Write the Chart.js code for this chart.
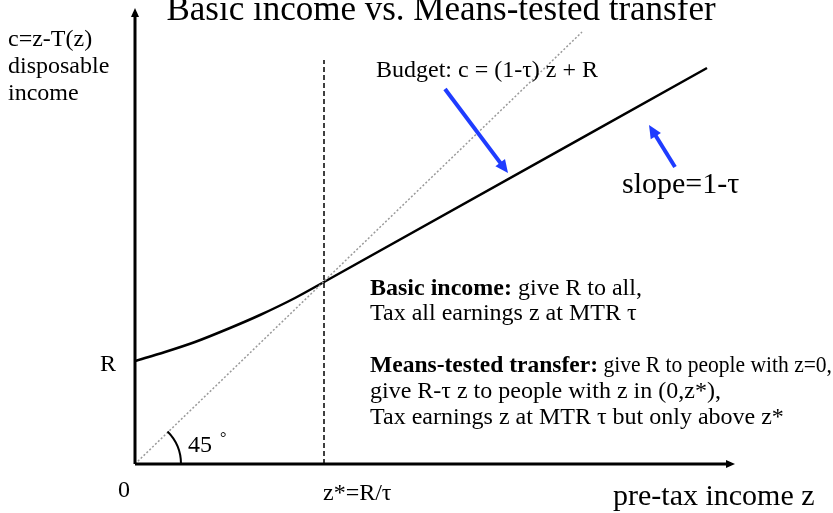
<!DOCTYPE html>
<html lang="en">
<head>
  <meta charset="UTF-8">
  <title>Basic income vs. Means-tested transfer</title>
  <script src="https://cdn.jsdelivr.net/npm/chart.js"></script>
  <style>
    body { margin: 0; background: #fff; }
    canvas { display: block; }
  </style>
</head>
<body>
  <canvas id="chart" width="833" height="513"></canvas>

  <script>
    // budget curve (z = pre-tax income, c = disposable income)
    const zBudget = [0, 30, 60, 95, 125, 160, 189, 572];
    const cBudget = [103, 112, 122, 136, 149, 166, 182, 396];

    // 45 degree line and the z* marker
    const zDiag = [0, 447];
    const cDiag = [0, 432];
    const R = 103;
    const zStar = 189;
    const cStarTop = 404;

    // axis ranges
    const zMax = 600;
    const cMax = 456;

    // blue pointer arrows (tail -> head)
    const arrowFromZ = [310, 540];
    const arrowFromC = [375, 297];
    const arrowToZ = [373, 514];
    const arrowToC = [291, 339];

    const noteLines = [
      ["Basic income:", " give R to all,"],
      ["", "Tax all earnings z at MTR \u03c4"],
      ["Means-tested transfer:", " give R to people with z=0,"],
      ["", "give R-\u03c4 z to people with z in (0,z*),"],
      ["", "Tax earnings z at MTR \u03c4 but only above z*"]
    ];

    const serif = '"Liberation Serif", "Times New Roman", serif';

    function arrowHead(ctx, x1, y1, x2, y2, len, half) {
      const a = Math.atan2(y2 - y1, x2 - x1);
      ctx.beginPath();
      ctx.moveTo(x2, y2);
      ctx.lineTo(x2 - len * Math.cos(a) + half * Math.sin(a), y2 - len * Math.sin(a) - half * Math.cos(a));
      ctx.lineTo(x2 - len * Math.cos(a) - half * Math.sin(a), y2 - len * Math.sin(a) + half * Math.cos(a));
      ctx.closePath();
      ctx.fill();
    }

    const diagramPlugin = {
      id: 'diagram',
      afterDatasetsDraw(chart) {
        const ctx = chart.ctx;
        const xs = chart.scales.x, ys = chart.scales.y;
        const px = v => xs.getPixelForValue(v);
        const py = v => ys.getPixelForValue(v);
        const x0 = px(0), y0 = py(0);

        ctx.save();
        // axes with arrow heads
        ctx.strokeStyle = '#000';
        ctx.fillStyle = '#000';
        ctx.lineWidth = 3;
        ctx.beginPath();
        ctx.moveTo(x0, y0);
        ctx.lineTo(px(zMax) - 4, y0);
        ctx.moveTo(x0, y0);
        ctx.lineTo(x0, py(cMax) + 4);
        ctx.stroke();
        arrowHead(ctx, x0, y0, px(zMax), y0, 9, 4);
        arrowHead(ctx, x0, y0, x0, py(cMax), 9, 4);

        // 45 degree arc
        ctx.lineWidth = 2;
        ctx.beginPath();
        ctx.arc(x0, y0, 46, -Math.PI / 4, 0);
        ctx.stroke();

        // blue arrows
        ctx.strokeStyle = '#1f3cff';
        ctx.fillStyle = '#1f3cff';
        ctx.lineWidth = 4;
        for (let i = 0; i < arrowFromZ.length; i++) {
          const ax = px(arrowFromZ[i]), ay = py(arrowFromC[i]);
          const bx = px(arrowToZ[i]), by = py(arrowToC[i]);
          const a = Math.atan2(by - ay, bx - ax);
          ctx.beginPath();
          ctx.moveTo(ax, ay);
          ctx.lineTo(bx - 8 * Math.cos(a), by - 8 * Math.sin(a));
          ctx.stroke();
          arrowHead(ctx, ax, ay, bx, by, 13, 6);
        }

        // texts
        ctx.fillStyle = '#000';
        ctx.textBaseline = 'alphabetic';
        ctx.textAlign = 'center';
        ctx.font = '35px ' + serif;
        ctx.fillText('Basic income vs. Means-tested transfer', 441, 20);

        ctx.textAlign = 'left';
        ctx.font = '24px ' + serif;
        ctx.fillText('c=z-T(z)', 8, 46);
        ctx.fillText('disposable', 8, 73);
        ctx.fillText('income', 8, 100);
        ctx.fillText('Budget: c = (1-\u03c4) z + R', 376, 77);
        ctx.fillText('R', x0 - 35, py(R) + 10);
        ctx.fillText('0', x0 - 17, 497);
        ctx.fillText('z*=R/\u03c4', px(zStar) - 1, 500);
        ctx.fillText('45', 188, 452);
        ctx.font = '16px ' + serif;
        ctx.fillText('\u00b0', 220, 443);

        ctx.font = '30px ' + serif;
        ctx.fillText('slope=1-\u03c4', 622, 193);
        ctx.fillText('pre-tax income z', 613, 505);

        const baselines = [295, 320, 372, 398, 424];
        noteLines.forEach((ln, i) => {
          let x = 370;
          if (ln[0]) {
            ctx.font = 'bold 24px ' + serif;
            const w = Math.min(ctx.measureText(ln[0]).width, i === 2 ? 228 : 999);
            ctx.fillText(ln[0], x, baselines[i], w);
            x += w;
          }
          ctx.font = '24px ' + serif;
          ctx.fillText(ln[1], x, baselines[i], 832 - x);
        });
        ctx.restore();
      }
    };

    const toPoints = (zs, cs) => zs.map((z, i) => ({ x: z, y: cs[i] }));

    new Chart(document.getElementById('chart'), {
      type: 'scatter',
      data: {
        datasets: [
          {
            label: '45 degree',
            data: toPoints(zDiag, cDiag),
            showLine: true,
            borderColor: '#9a9a9a',
            borderWidth: 1.5,
            borderDash: [2, 2],
            pointRadius: 0
          },
          {
            label: 'z*',
            data: toPoints([zStar, zStar], [0, cStarTop]),
            showLine: true,
            borderColor: '#000',
            borderWidth: 1.5,
            borderDash: [5, 3],
            pointRadius: 0
          },
          {
            label: 'Budget',
            data: toPoints(zBudget, cBudget),
            showLine: true,
            borderColor: '#000',
            borderWidth: 2.5,
            cubicInterpolationMode: 'monotone',
            pointRadius: 0
          }
        ]
      },
      options: {
        responsive: false,
        animation: false,
        layout: { padding: { left: 135, right: 98, top: 8, bottom: 49 } },
        plugins: { legend: { display: false }, tooltip: { enabled: false } },
        scales: {
          x: { type: 'linear', min: 0, max: zMax, display: false },
          y: { type: 'linear', min: 0, max: cMax, display: false }
        }
      },
      plugins: [diagramPlugin]
    });
  </script>
</body>
</html>
